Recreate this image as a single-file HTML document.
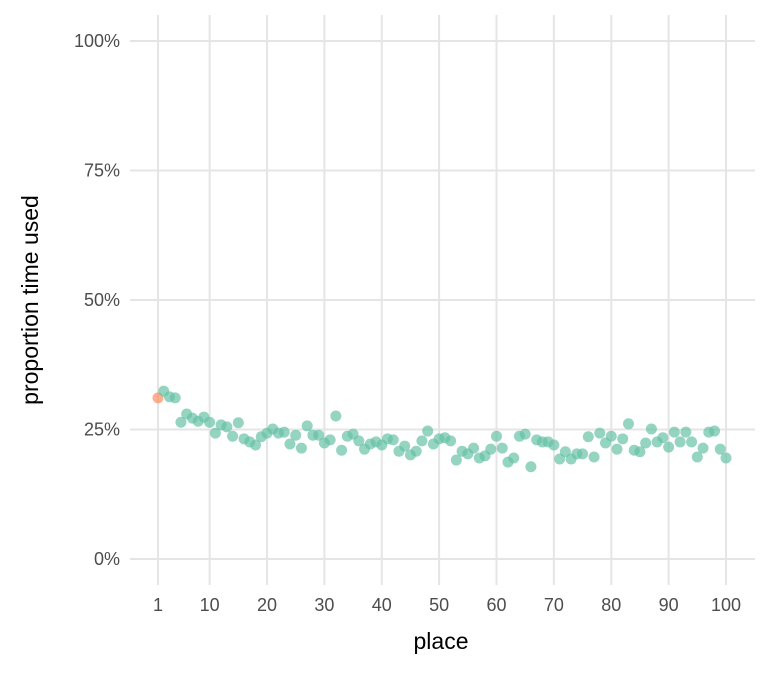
<!DOCTYPE html>
<html><head><meta charset="utf-8"><style>
body{margin:0;background:#fff;font-family:"Liberation Sans",Arial,sans-serif}
</style></head><body>
<svg id="chart" width="768" height="672" xmlns="http://www.w3.org/2000/svg" font-family="Liberation Sans, Arial, sans-serif">
<g id="grid"></g>
<g id="points"></g>
<g id="labels"></g>
<text x="441" y="649" font-size="23" text-anchor="middle" fill="#000">place</text>
<text transform="translate(38,300) rotate(-90)" font-size="23" text-anchor="middle" fill="#000">proportion time used</text>
</svg>
<script>
const yTicks=[0,25,50,75,100];
const xTicks=[1,10,20,30,40,50,60,70,80,90,100];
const values=[31.1,32.4,31.3,31.1,26.4,28.0,27.2,26.6,27.4,26.4,24.3,25.9,25.5,23.7,26.3,23.2,22.6,22.0,23.6,24.3,25.1,24.3,24.5,22.2,23.9,21.4,25.7,23.9,23.9,22.4,23.0,27.6,21.0,23.7,24.1,22.8,21.2,22.2,22.6,22.0,23.2,23.0,20.8,21.8,20.1,20.8,22.8,24.7,22.2,23.2,23.4,22.8,19.1,20.8,20.3,21.4,19.5,19.9,21.2,23.7,21.4,18.7,19.5,23.7,24.1,17.8,23.0,22.6,22.6,22.0,19.3,20.7,19.3,20.3,20.3,23.6,19.7,24.3,22.4,23.7,21.2,23.2,26.1,21.0,20.7,22.4,25.1,22.6,23.4,21.6,24.5,22.6,24.5,22.6,19.7,21.4,24.5,24.7,21.2,19.5];
const NS="http://www.w3.org/2000/svg";
const xs=v=>158+(v-1)*(568/99);
const ys=v=>559-v*5.18;
const grid=document.getElementById('grid'),pts=document.getElementById('points'),lab=document.getElementById('labels');
function mk(tag,attrs,parent){const e=document.createElementNS(NS,tag);for(const k in attrs)e.setAttribute(k,attrs[k]);parent.appendChild(e);return e;}
yTicks.forEach(t=>{
  const l=mk('line',{x1:130,x2:755,y1:ys(t),y2:ys(t),stroke:'#e5e5e5','stroke-width':2},grid);
  
  
  const tx=mk('text',{x:120,y:ys(t)+6,'font-size':18,'text-anchor':'end',fill:'#4d4d4d'},lab);
  tx.textContent=t+'%';
  
  
});
xTicks.forEach(t=>{
  const l=mk('line',{x1:xs(t),x2:xs(t),y1:15,y2:585,stroke:'#e5e5e5','stroke-width':2},grid);
  
  
  const tx=mk('text',{x:xs(t),y:611,'font-size':18,'text-anchor':'middle',fill:'#4d4d4d'},lab);
  tx.textContent=t;
  
  
});
values.forEach((v,i)=>{
  const c=mk('circle',{cx:xs(i+1),cy:ys(v),r:5.5,fill:i===0?'#fc8d62':'#66c2a5','fill-opacity':0.7},pts);
  
  
});
</script>
</body></html>
